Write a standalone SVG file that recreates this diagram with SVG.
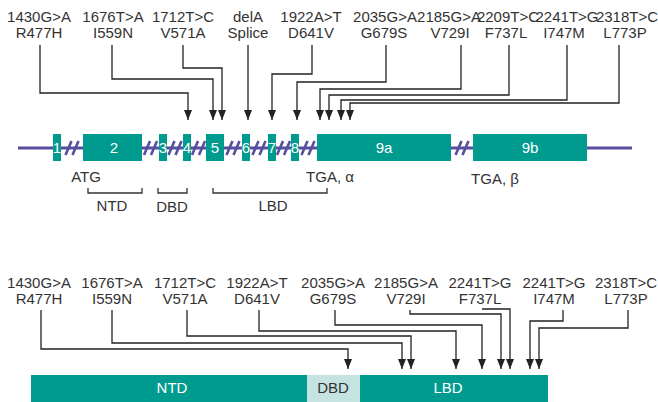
<svg xmlns="http://www.w3.org/2000/svg" width="658" height="402" viewBox="0 0 658 402">
<style>
.t{font-family:"Liberation Sans",Arial,sans-serif;font-size:15px;fill:#333;text-anchor:middle}
.w{font-family:"Liberation Sans",Arial,sans-serif;font-size:15px;fill:#fff;text-anchor:middle}
.ex{fill:#009b8f}
.c{fill:none;stroke:#222;stroke-width:1.3}
.br{fill:none;stroke:#333;stroke-width:1.3}
.gl{stroke:#574ea0;stroke-width:3;fill:none}
.sl{stroke:#574ea0;stroke-width:2.6;fill:none}
</style>
<defs>
<marker id="ah" markerUnits="userSpaceOnUse" markerWidth="8" markerHeight="10" viewBox="0 0 8 10" refX="4" refY="10" orient="0">
<path d="M0,0 L8,0 L4,10 Z" fill="#222"/>
</marker>
<g id="slash"><path class="sl" d="M-6.5,7 L-0.5,-7 M0.5,7 L6.5,-7"/></g>
</defs>
<rect width="658" height="402" fill="#fff"/>

<g id="gene">
<line class="gl" x1="18" y1="148" x2="632" y2="148"/>
</g>
<g id="exons">
<g id="exon1"><rect class="ex" x="53" y="134" width="8" height="27"/><text class="w" x="57" y="153">1</text></g>
<g id="exon2"><rect class="ex" x="83" y="134" width="59" height="27"/><text class="w" x="114" y="153">2</text></g>
<g id="exon3"><rect class="ex" x="159" y="134" width="8" height="27"/><text class="w" x="163" y="153">3</text></g>
<g id="exon4"><rect class="ex" x="183" y="134" width="8" height="27"/><text class="w" x="187" y="153">4</text></g>
<g id="exon5"><rect class="ex" x="206" y="134" width="18" height="27"/><text class="w" x="215" y="153">5</text></g>
<g id="exon6"><rect class="ex" x="242" y="134" width="8" height="27"/><text class="w" x="246" y="153">6</text></g>
<g id="exon7"><rect class="ex" x="268" y="134" width="8" height="27"/><text class="w" x="272" y="153">7</text></g>
<g id="exon8"><rect class="ex" x="291" y="134" width="8" height="27"/><text class="w" x="295" y="153">8</text></g>
<g id="exon9a"><rect class="ex" x="317" y="134" width="134" height="27"/><text class="w" x="384" y="153">9a</text></g>
<g id="exon9b"><rect class="ex" x="473" y="134" width="114" height="27"/><text class="w" x="530" y="153">9b</text></g>
</g>
<g id="breaks">
<use href="#slash" x="72" y="148"/>
<use href="#slash" x="150.5" y="148"/>
<use href="#slash" x="175" y="148"/>
<use href="#slash" x="198.5" y="148"/>
<use href="#slash" x="233" y="148"/>
<use href="#slash" x="259" y="148"/>
<use href="#slash" x="283.5" y="148"/>
<use href="#slash" x="308" y="148"/>
<use href="#slash" x="462" y="148"/>
</g>
<g id="gene-labels">
<text class="t" x="86" y="182">ATG</text>
<text class="t" x="330" y="182">TGA, α</text>
<text class="t" x="495" y="184">TGA, β</text>
<path class="br" d="M88,188 V193 H142 V188 M158,188 V193 H187 V188 M213,188 V193 H327 V188"/>
<text class="t" x="112" y="211">NTD</text>
<text class="t" x="172" y="212">DBD</text>
<text class="t" x="273" y="211">LBD</text>
</g>

<g id="top-labels">
<g id="m1"><text class="t" x="39" y="22">1430G&gt;A</text><text class="t" x="39" y="38">R477H</text></g>
<g id="m2"><text class="t" x="113" y="22">1676T&gt;A</text><text class="t" x="113" y="38">I559N</text></g>
<g id="m3"><text class="t" x="183" y="22">1712T&gt;C</text><text class="t" x="183" y="38">V571A</text></g>
<g id="m4"><text class="t" x="248" y="22">delA</text><text class="t" x="248" y="38">Splice</text></g>
<g id="m5"><text class="t" x="311" y="22">1922A&gt;T</text><text class="t" x="311" y="38">D641V</text></g>
<g id="m6"><text class="t" x="385" y="22">2035G&gt;A</text><text class="t" x="384" y="38">G679S</text></g>
<g id="m7"><text class="t" x="449" y="22">2185G&gt;A</text><text class="t" x="450" y="38">V729I</text></g>
<g id="m8"><text class="t" x="508" y="22">2209T&gt;C</text><text class="t" x="506" y="38">F737L</text></g>
<g id="m9"><text class="t" x="567" y="22">2241T&gt;G</text><text class="t" x="564" y="38">I747M</text></g>
<g id="m10"><text class="t" x="627" y="22">2318T&gt;C</text><text class="t" x="625" y="38">L773P</text></g>
</g>
<g id="top-connectors">
<path class="c" marker-end="url(#ah)" d="M40,45 V93 H188 V120"/>
<path class="c" marker-end="url(#ah)" d="M112,45 V79 H213 V120"/>
<path class="c" marker-end="url(#ah)" d="M183,45 V68 H222 V120"/>
<path class="c" marker-end="url(#ah)" d="M248,45 V120"/>
<path class="c" marker-end="url(#ah)" d="M312,45 V74 H272 V120"/>
<path class="c" marker-end="url(#ah)" d="M386,45 V82 H297 V120"/>
<path class="c" marker-end="url(#ah)" d="M461,45 V89 H320 V120"/>
<path class="c" marker-end="url(#ah)" d="M509,45 V95 H329 V120"/>
<path class="c" marker-end="url(#ah)" d="M567,45 V100 H341 V120"/>
<path class="c" marker-end="url(#ah)" d="M619,45 V103 H350 V120"/>
</g>

<g id="bottom-labels">
<g id="b1"><text class="t" x="39" y="288">1430G&gt;A</text><text class="t" x="39" y="304">R477H</text></g>
<g id="b2"><text class="t" x="112" y="288">1676T&gt;A</text><text class="t" x="112" y="304">I559N</text></g>
<g id="b3"><text class="t" x="185" y="288">1712T&gt;C</text><text class="t" x="185" y="304">V571A</text></g>
<g id="b4"><text class="t" x="257" y="288">1922A&gt;T</text><text class="t" x="257" y="304">D641V</text></g>
<g id="b5"><text class="t" x="333" y="288">2035G&gt;A</text><text class="t" x="333" y="304">G679S</text></g>
<g id="b6"><text class="t" x="406" y="288">2185G&gt;A</text><text class="t" x="406" y="304">V729I</text></g>
<g id="b7"><text class="t" x="480" y="288">2241T&gt;G</text><text class="t" x="480" y="304">F737L</text></g>
<g id="b8"><text class="t" x="554" y="288">2241T&gt;G</text><text class="t" x="554" y="304">I747M</text></g>
<g id="b9"><text class="t" x="626" y="288">2318T&gt;C</text><text class="t" x="626" y="304">L773P</text></g>
</g>
<g id="bottom-connectors">
<path class="c" marker-end="url(#ah)" d="M41,310 V349 H348 V369"/>
<path class="c" marker-end="url(#ah)" d="M112,310 V343 H402 V369"/>
<path class="c" marker-end="url(#ah)" d="M187,310 V336 H411 V369"/>
<path class="c" marker-end="url(#ah)" d="M259,310 V331 H456 V369"/>
<path class="c" marker-end="url(#ah)" d="M335,310 V325 H482 V369"/>
<path class="c" marker-end="url(#ah)" d="M410,310 V314 H501 V369"/>
<path class="c" marker-end="url(#ah)" d="M482,309 H510 V369"/>
<path class="c" marker-end="url(#ah)" d="M563,310 V321 H530 V369"/>
<path class="c" marker-end="url(#ah)" d="M628,310 V328 H539 V369"/>
</g>
<g id="protein">
<g id="p-ntd"><rect x="31" y="375" width="276" height="27" fill="#009b8f"/><text class="w" x="172" y="393">NTD</text></g>
<g id="p-dbd"><rect x="307" y="375" width="53" height="27" fill="#c5e3e1"/><text class="t" x="333" y="393">DBD</text></g>
<g id="p-lbd"><rect x="360" y="375" width="188" height="27" fill="#009b8f"/><text class="w" x="448" y="393">LBD</text></g>
</g>
</svg>
